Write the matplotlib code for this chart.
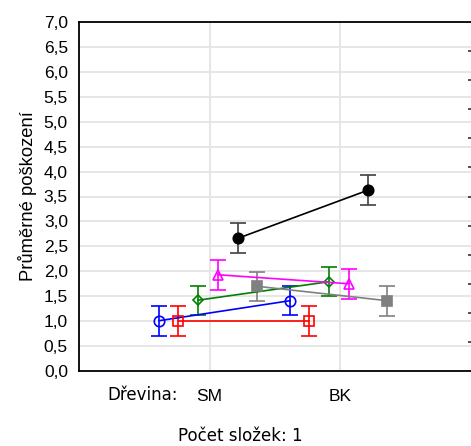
import numpy as np
import matplotlib.pyplot as plt

plt.rcParams['font.family'] = ['Liberation Sans', 'DejaVu Sans']

# data
dreviny = ['SM', 'BK']
colors = ['blue', 'red', 'green', 'magenta', 'black', 'gray']
markers = ['o', 's', 'D', '^', 'o', 's']
filled = [False, False, False, False, True, True]
means = [
    [1.01, 1.41],
    [1.00, 1.00],
    [1.42, 1.79],
    [1.93, 1.75],
    [2.66, 3.63],
    [1.70, 1.41],
]
errs = [
    [0.30, 0.29],
    [0.30, 0.30],
    [0.29, 0.29],
    [0.30, 0.30],
    [0.30, 0.30],
    [0.29, 0.30],
]
offsets = [-0.385, -0.24, -0.09, 0.065, 0.215, 0.36]

fig = plt.figure(figsize=(4.71, 4.46), dpi=100)
ax = fig.add_axes([79/471, 1 - 371/446, 1 - 79/471, (371 - 22)/446])

x = np.arange(len(dreviny))
for m, e, c, mk, f, off in zip(means, errs, colors, markers, filled, offsets):
    ecol = '#404040' if c == 'black' else c
    ms = 5 if mk == 'D' else 7.5
    ax.errorbar(x + off, m, yerr=e, color=c, ecolor=ecol, elinewidth=1.2,
                capsize=6, capthick=1.2, lw=1.2, marker=mk, ms=ms,
                mfc=c if f else 'none', mec=c, mew=1.2, zorder=3)

ax.set_xlim(-1, 2)
ax.set_ylim(0, 7)
ax.set_yticks(np.arange(0, 7.01, 0.5))
ax.set_yticklabels([f'{v:.1f}'.replace('.', ',') for v in np.arange(0, 7.01, 0.5)])
ax.set_xticks(x)
ax.set_xticklabels(dreviny)
ax.tick_params(axis='y', length=0, pad=8, labelsize=12.5)
ax.tick_params(axis='x', length=0, pad=13, labelsize=12.5)
ax.grid(True, color='#e4e4e4', lw=1.3)
ax.set_axisbelow(True)
ax.spines['right'].set_visible(False)
for s in ['left', 'top', 'bottom']:
    ax.spines[s].set_linewidth(1.3)
ax.set_ylabel('Průměrné poškození', fontsize=13.2, labelpad=5)

ax2 = ax.twinx()
ax2.set_ylim(0, 12)
ax2.set_yticks(np.arange(1, 12))
ax2.set_yticklabels([])
ax2.tick_params(axis='y', direction='in', length=2, width=1.2, color='#333333')
for s in ['left', 'top', 'bottom', 'right']:
    ax2.spines[s].set_visible(False)

fig.text(107/471, 1 - 395/446, 'Dřevina:', fontsize=12, ha='left', va='center',
         family=['DejaVu Sans'])
fig.text(240/471, 1 - 436/446, 'Počet složek: 1', fontsize=12, ha='center', va='center',
         family=['DejaVu Sans'])

fig.savefig('out.png', dpi=100)
